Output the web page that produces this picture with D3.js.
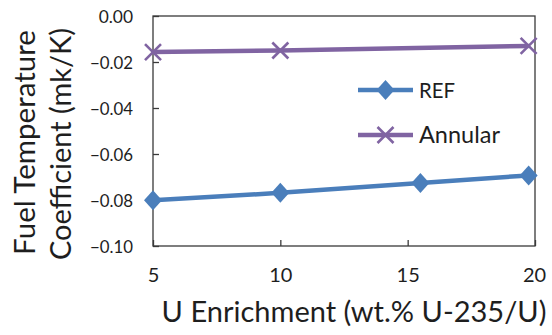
<!DOCTYPE html>
<html>
<head>
<meta charset="utf-8">
<script src="https://cdn.jsdelivr.net/npm/d3@7"></script>
<style>
  body { margin: 0; background: #fff; }
  text { font-family: Lato, "Open Sans", sans-serif; fill: #1e1e1e; }
</style>
</head>
<body>
<div id="chart"></div>
<script>
// values
const enrichment = [5, 10, 15.5, 19.75];
const refValues = [-0.0801, -0.0769, -0.0726, -0.0693];
const annularValues = [-0.0157, -0.0150, -0.0130];
const annularEnrichment = [5, 10, 19.75];
const xTicks = [5, 10, 15, 20];
const yTicks = [0, -0.02, -0.04, -0.06, -0.08, -0.10];

const W = 552, H = 335;
const margin = { top: 16, right: 17, bottom: 89, left: 153 };
const width = W - margin.left - margin.right;
const height = H - margin.top - margin.bottom;

const svg = d3.select('#chart').append('svg')
  .attr('width', W)
  .attr('height', H);

const g = svg.append('g')
  .attr('transform', `translate(${margin.left},${margin.top})`);

const x = d3.scaleLinear().domain([5, 20]).range([0, width]);
const y = d3.scaleLinear().domain([-0.10, 0]).range([height, 0]);

// shrink/grow a text until it spans the width seen in the reference
function fit(sel, target) {
  const n = sel.node();
  const fs = parseFloat(sel.style('font-size'));
  const w = n.getComputedTextLength();
  sel.style('font-size', (fs * target / w) + 'px');
  return sel;
}

// frame
g.append('rect')
  .attr('width', width)
  .attr('height', height)
  .attr('fill', 'none')
  .attr('stroke', '#3a3a3a')
  .attr('stroke-width', 1.3);

// axes with inward ticks
const yAxis = g.append('g')
  .call(d3.axisLeft(y).tickValues(yTicks).tickSize(-6).tickPadding(20).tickFormat(d3.format('.2f')));
const xAxis = g.append('g')
  .attr('transform', `translate(0,${height})`)
  .call(d3.axisBottom(x).tickValues(xTicks).tickSize(-6).tickPadding(24).tickFormat(d3.format('d')));

[yAxis, xAxis].forEach(a => {
  a.select('.domain').remove();
  a.selectAll('line').attr('stroke', '#3a3a3a').attr('stroke-width', 1.3);
  a.selectAll('text').style('font-size', '19px').attr('fill', '#1e1e1e');
});
yAxis.selectAll('text').each(function () { fit(d3.select(this), this.textContent.length * 8.6); });
yAxis.selectAll('text').attr('dy', '0.36em');
xAxis.selectAll('text').style('font-size', '20px').attr('dy', '0.6em');
xAxis.selectAll('text').filter(d => d === 20).attr('dx', -1);

const line = d3.line().x(d => x(d[0])).y(d => y(d[1]));

const refData = enrichment.map((e, i) => [e, refValues[i]]);
const annData = annularEnrichment.map((e, i) => [e, annularValues[i]]);

const blue = '#4a7ebb';
const purple = '#8064a2';

g.append('path')
  .attr('d', line(refData))
  .attr('fill', 'none')
  .attr('stroke', blue)
  .attr('stroke-width', 4.5);

g.append('path')
  .attr('d', line(annData))
  .attr('fill', 'none')
  .attr('stroke', purple)
  .attr('stroke-width', 4.5);

const diamond = 'M0,-10L9,0L0,10L-9,0Z';
const cross = 'M-8,-8L8,8M-8,8L8,-8';

g.selectAll('.ref-pt')
  .data(refData)
  .enter().append('path')
  .attr('class', 'ref-pt')
  .attr('transform', d => `translate(${x(d[0])},${y(d[1])})`)
  .attr('d', diamond)
  .attr('fill', blue);

g.selectAll('.ann-pt')
  .data(annData)
  .enter().append('path')
  .attr('class', 'ann-pt')
  .attr('transform', d => `translate(${x(d[0])},${y(d[1])})`)
  .attr('d', cross)
  .attr('stroke', purple)
  .attr('stroke-width', 2.6);

// legend
const legend = svg.append('g').attr('transform', 'translate(358,90)');
legend.append('line').attr('x1', 0).attr('x2', 55).attr('stroke', blue).attr('stroke-width', 4.5);
legend.append('path').attr('transform', 'translate(27.5,0)').attr('d', diamond).attr('fill', blue);
fit(legend.append('text').attr('x', 61).attr('y', 7.5).style('font-size', '20px').text('REF'), 36);

legend.append('line').attr('x1', 0).attr('x2', 55).attr('y1', 45).attr('y2', 45).attr('stroke', purple).attr('stroke-width', 4.5);
legend.append('path').attr('transform', 'translate(27.5,45)').attr('d', cross).attr('stroke', purple).attr('stroke-width', 2.6);
fit(legend.append('text').attr('x', 61).attr('y', 52.5).style('font-size', '20px').text('Annular'), 81);

// axis titles
fit(svg.append('text')
  .attr('x', 354)
  .attr('y', 322)
  .attr('text-anchor', 'middle')
  .style('font-size', '26px')
  .text('U Enrichment (wt.% U-235/U)'), 385);

fit(svg.append('text')
  .attr('transform', 'translate(35,142.5) rotate(-90)')
  .attr('text-anchor', 'middle')
  .style('font-size', '26px')
  .text('Fuel Temperature'), 225);

fit(svg.append('text')
  .attr('transform', 'translate(71,144) rotate(-90)')
  .attr('text-anchor', 'middle')
  .style('font-size', '26px')
  .text('Coefficient (mk/K)'), 232);
</script>
</body>
</html>
